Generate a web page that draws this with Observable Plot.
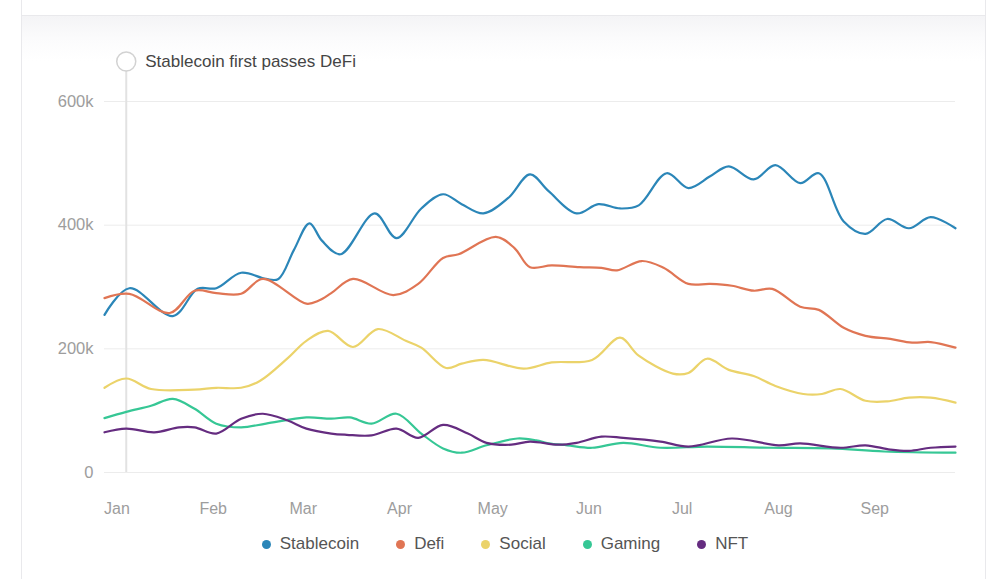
<!DOCTYPE html>
<html>
<head>
<meta charset="utf-8">
<script src="https://cdn.jsdelivr.net/npm/d3@7"></script>
<script src="https://cdn.jsdelivr.net/npm/@observablehq/plot@0.6"></script>
<style>
  html, body { margin: 0; padding: 0; background: #fff; width: 1000px; height: 579px; overflow: hidden; }
  .frame-top { position: absolute; left: 21px; top: 0; width: 963px; height: 15px; border-left: 1px solid #e9e9ec; border-right: 1px solid #e9e9ec; background: #fff; }
  .card { position: absolute; left: 21px; top: 15px; width: 963px; height: 580px; border: 1px solid #e9e9ec; border-bottom: none;
          background: linear-gradient(#f4f4f6 0px, #fbfbfc 22px, #ffffff 45px); }
  #chart { position: absolute; left: 0; top: 0; }
  #legend { position: absolute; left: 0; top: 533px; width: 1000px; height: 22px; display: flex; justify-content: center;
            align-items: center; font-family: 'Liberation Sans', Arial, sans-serif; font-size: 17px; color: #555; padding-left: 10px; box-sizing: border-box; }
  .item { display: flex; align-items: center; margin: 0 18.5px; }
  .sw { width: 9px; height: 9px; border-radius: 50%; margin-right: 9px; }
</style>
</head>
<body>
<div class="frame-top"></div>
<div class="card"></div>
<div id="chart"></div>
<div id="legend"></div>
<script>
// ---- data (values in thousands; days counted from 2024-01-01) ----
const seriesNames  = ["Stablecoin", "Defi", "Social", "Gaming", "NFT"];
const seriesColors = ["#2b86b8", "#e07554", "#ebd36a", "#36c795", "#652c80"];

const stablecoinDays   = [-4, 4, 18, 26, 32, 40, 48, 52, 57, 62, 66, 72, 83, 90, 98, 105, 111, 118, 126, 133, 139, 148, 155, 162, 168, 177, 184, 191, 197, 205, 212, 220, 226, 234, 241, 248, 255, 262, 270];
const stablecoinValues = [255, 298, 253, 297, 298, 323, 313, 313, 360, 403, 375, 353, 419, 379, 427, 450, 434, 419, 444, 482, 455, 419, 434, 427, 432, 484, 460, 479, 495, 474, 497, 468, 484, 406, 386, 410, 395, 413, 395];

const defiDays   = [-4, 4, 17, 25, 32, 40, 47, 61, 65, 69, 76, 89, 97, 105, 110, 122, 128, 133, 140, 149, 156, 161, 169, 176, 184, 191, 198, 205, 211, 220, 226, 234, 241, 249, 256, 262, 270];
const defiValues = [282, 289, 258, 294, 290, 289, 313, 273, 278, 290, 313, 287, 305, 347, 353, 381, 363, 332, 335, 332, 331, 327, 342, 331, 305, 305, 302, 294, 297, 268, 263, 234, 221, 216, 210, 211, 202];

const socialDays   = [-4, 3, 11, 25, 32, 40, 46, 55, 61, 68, 76, 84, 93, 98, 106, 111, 118, 131, 140, 153, 162, 168, 179, 184, 190, 197, 205, 212, 221, 227, 233, 241, 248, 255, 262, 270];
const socialValues = [137, 152, 135, 134, 137, 137, 148, 185, 213, 229, 203, 232, 213, 202, 169, 176, 182, 168, 178, 182, 218, 189, 160, 161, 184, 166, 156, 140, 127, 127, 135, 116, 115, 121, 121, 113];

const gamingDays   = [-4, 3, 11, 18, 25, 32, 40, 48, 61, 69, 75, 82, 90, 98, 105, 111, 119, 129, 135, 139, 145, 153, 163, 175, 190, 210, 230, 247, 270];
const gamingValues = [88, 98, 108, 119, 103, 79, 73, 79, 89, 87, 89, 79, 95, 63, 39, 32, 44, 55, 52, 47, 44, 40, 48, 40, 42, 40, 39, 34, 32];

const nftDays   = [-4, 3, 12, 20, 25, 32, 40, 47, 55, 61, 69, 74, 82, 90, 97, 105, 113, 119, 127, 133, 142, 148, 156, 163, 175, 184, 198, 213, 220, 233, 241, 249, 255, 262, 270];
const nftValues = [65, 71, 65, 73, 73, 63, 87, 95, 84, 71, 63, 61, 60, 71, 56, 77, 63, 48, 45, 50, 45, 48, 58, 56, 50, 42, 55, 44, 47, 40, 44, 37, 35, 40, 42];

const yTickValues = [0, 200000, 400000, 600000];
const monthTickLabels = ["Jan", "Feb", "Mar", "Apr", "May", "Jun", "Jul", "Aug", "Sep"];

const eventDays   = [3];
const eventLabels = ["Stablecoin first passes DeFi"];

// ---- build table ----
const base = Date.UTC(2024, 0, 1);
const dayDate = d => new Date(base + d * 864e5);

const seriesDays   = [stablecoinDays, defiDays, socialDays, gamingDays, nftDays];
const seriesValues = [stablecoinValues, defiValues, socialValues, gamingValues, nftValues];
const rows = [];
seriesNames.forEach((name, s) => {
  seriesDays[s].forEach((d, i) => rows.push({series: name, date: dayDate(d), value: seriesValues[s][i] * 1000}));
});
const events = eventDays.map((d, i) => ({date: dayDate(d), label: eventLabels[i]}));
const monthTicks = monthTickLabels.map((m, i) => new Date(Date.UTC(2024, i, 1)));
const allDays = seriesDays.flat();

const chart = Plot.plot({
  width: 1000,
  height: 525,
  marginLeft: 104,
  marginRight: 45,
  marginTop: 101,
  marginBottom: 53,
  x: {type: "utc", domain: [dayDate(d3.min(allDays)), dayDate(d3.max(allDays))]},
  y: {domain: [0, 600000]},
  color: {domain: seriesNames, range: seriesColors},
  style: {background: "transparent", fontFamily: "'Liberation Sans', Arial, sans-serif", overflow: "visible"},
  marks: [
    Plot.gridY(yTickValues, {stroke: "#ececec", strokeOpacity: 1, strokeWidth: 1}),
    Plot.axisY(yTickValues, {tickSize: 0, tickPadding: 11, tickFormat: d3.format("~s"), fontSize: 16.5, color: "#9d9d9d", label: null}),
    Plot.axisX(monthTicks, {tickSize: 0, tickPadding: 30, tickFormat: (d, i) => monthTickLabels[i], fontSize: 16, color: "#9d9d9d", label: null}),
    Plot.ruleX(events, {x: "date", stroke: "#e2e2e2", strokeWidth: 2, insetTop: -31}),
    Plot.line(rows, {x: "date", y: "value", z: "series", stroke: "series", strokeWidth: 2.2, curve: "catmull-rom"}),
    Plot.dot(events, {x: "date", frameAnchor: "top", dy: -40, r: 9.5, fill: "white", stroke: "#d2d2d2", strokeWidth: 1.5}),
    Plot.text(events, {x: "date", text: "label", frameAnchor: "top", lineAnchor: "middle", dy: -40, dx: 19, textAnchor: "start", fontSize: 17, fill: "#454545"})
  ]
});
document.getElementById("chart").appendChild(chart);

// ---- legend ----
const legend = document.getElementById("legend");
seriesNames.forEach((name, i) => {
  const item = document.createElement("div");
  item.className = "item";
  const sw = document.createElement("span");
  sw.className = "sw";
  sw.style.background = seriesColors[i];
  const label = document.createElement("span");
  label.textContent = name;
  item.appendChild(sw);
  item.appendChild(label);
  legend.appendChild(item);
});
</script>
</body>
</html>
